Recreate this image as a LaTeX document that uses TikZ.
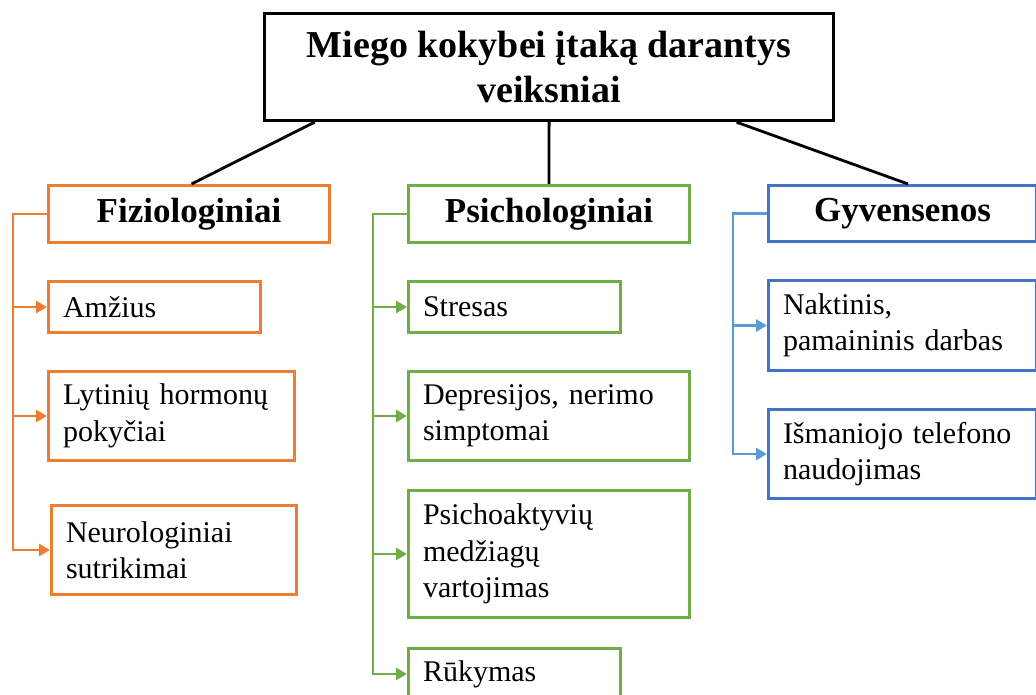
\documentclass[tikz,border=0pt]{standalone}
\usepackage{fontspec}
\setmainfont{Liberation Serif}
\usetikzlibrary{arrows.meta,calc}
\definecolor{orng}{HTML}{ED7D31}
\definecolor{grn}{HTML}{70AD47}
\definecolor{bluebox}{HTML}{4472C4}
\definecolor{blueline}{HTML}{5B9BD5}
\tikzset{
  boxbase/.style={draw, line width=3pt, anchor=north west, inner ysep=0pt, inner xsep=14.5pt},
  leaf/.style={boxbase, align=left, font=\fontsize{30}{36.5}\selectfont},
  head/.style={boxbase, align=center, font=\bfseries\fontsize{35}{44}\selectfont},
  tree/.style={line width=2.8pt},
  sidearrow/.style={line width=2.8pt, -{Triangle[length=11pt,width=12pt]}},
}
\begin{document}
\begin{tikzpicture}[x=1pt,y=-1pt]
\useasboundingbox (0,0) rectangle (1036,695);
\clip (0,0) rectangle (1036,695);
% title
\node[head, font=\bfseries\fontsize{38}{45}\selectfont, minimum width=569pt, minimum height=107pt, line width=3.2pt] (title) at (263,12)
  {Miego kokybei įtaką darantys\\veiksniai};
% headings
\node[head, draw=orng, minimum width=281pt, minimum height=57pt] (fiz) at (47,184) {Fiziologiniai};
\node[head, draw=grn, minimum width=281pt, minimum height=57pt] (psi) at (407,184) {Psichologiniai};
\node[head, draw=bluebox, minimum width=268pt, minimum height=56pt] (gyv) at (767,184) {Gyvensenos};
% leaves
\node[leaf, draw=orng, minimum width=212pt, text width=183pt, minimum height=51pt] (amz) at (47,280) {Amžius};
\node[leaf, draw=orng, minimum width=246pt, text width=217pt, minimum height=89pt] (lyt) at (47,370) {Lytinių hormonų\\pokyčiai};
\node[leaf, draw=orng, minimum width=245pt, text width=216pt, minimum height=89pt] (neu) at (50,504) {Neurologiniai\\sutrikimai};
\node[leaf, draw=grn, minimum width=212pt, text width=183pt, minimum height=51pt] (str) at (407,280) {Stresas};
\node[leaf, draw=grn, minimum width=281pt, text width=252pt, minimum height=89pt] (dep) at (407,370) {Depresijos, nerimo\\simptomai};
\node[leaf, draw=grn, minimum width=281pt, text width=252pt, minimum height=127pt] (psa) at (407,489) {Psichoaktyvių\\medžiagų\\vartojimas};
\node[leaf, draw=grn, minimum width=212pt, text width=183pt, minimum height=51pt] (ruk) at (407,647) {Rūkymas};
\node[leaf, draw=bluebox, minimum width=268pt, text width=239pt, minimum height=90pt] (nak) at (767,279) {Naktinis,\\pamaininis darbas};
\node[leaf, draw=bluebox, minimum width=268pt, text width=239pt, minimum height=89pt] (ism) at (767,408) {Išmaniojo telefono\\naudojimas};
% tree connectors
\draw[tree] ($(title.south)+(-234.5,0)$) -- ($(fiz.north)+(2.5,0)$);
\draw[tree] (title.south) -- (psi.north);
\draw[tree] ($(title.south)+(187.5,0)$) -- ($(gyv.north)+(5.5,0)$);
% side arrows
\foreach \c in {amz,lyt,neu}
  \draw[sidearrow, orng] (fiz.west) -- ++(-34,0) |- (\c.west);
\foreach \c in {str,dep,psa,ruk}
  \draw[sidearrow, grn] (psi.west) -- ++(-34,0) |- (\c.west);
\foreach \c in {nak,ism}
  \draw[sidearrow, blueline] (gyv.west) -- ++(-34,0) |- (\c.west);
\end{tikzpicture}
\end{document}
